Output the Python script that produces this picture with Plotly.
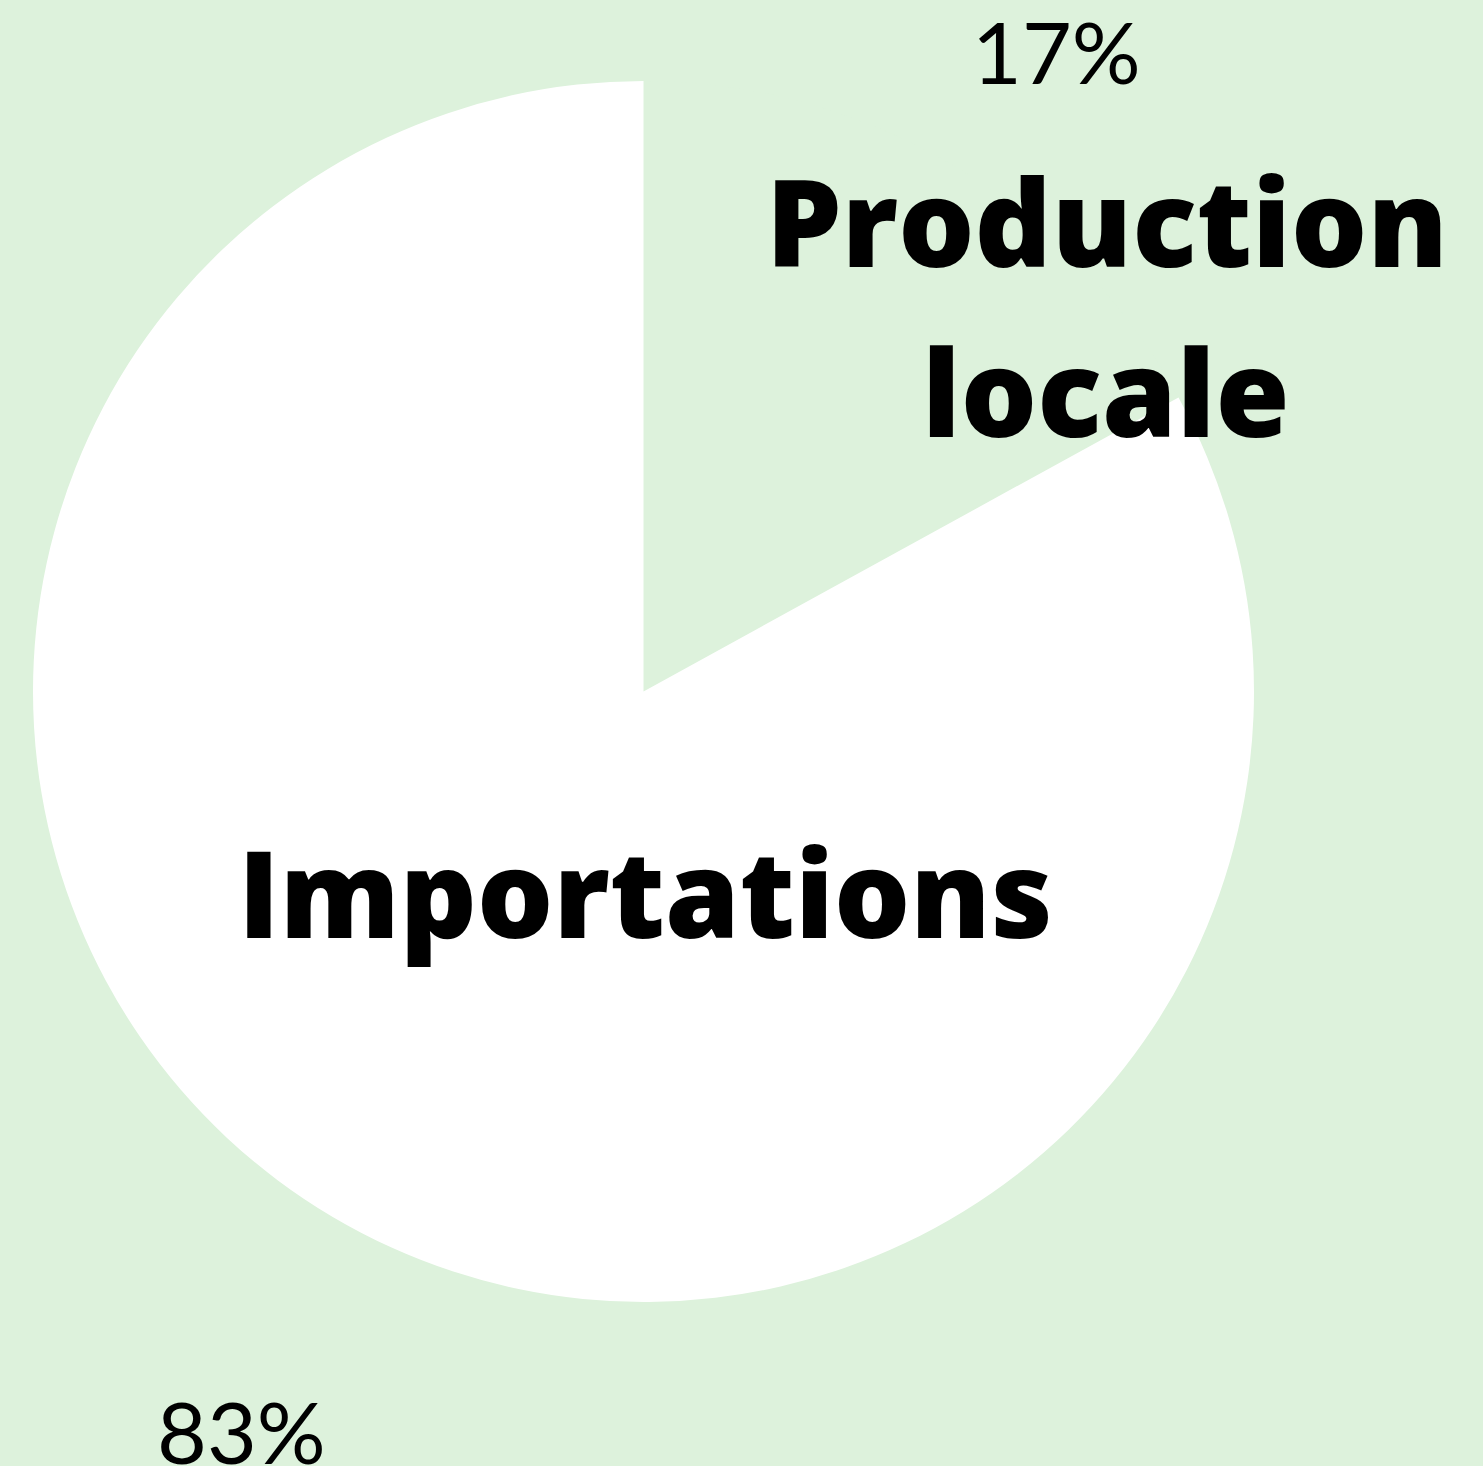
import plotly.graph_objects as go

labels = ["Production locale", "Importations"]
values = [17, 83]
pct_text = ["17%", "83%"]
label_lines = [["Production", "locale"], ["Importations"]]

BG = "#DDF2DC"
W, H = 1483, 1466

fig = go.Figure(go.Pie(
    labels=labels,
    values=values,
    sort=False,
    direction="clockwise",
    rotation=0,
    marker=dict(colors=[BG, "#FFFFFF"], line=dict(width=0)),
    textinfo="none",
    hoverinfo="label+percent",
    showlegend=False,
    domain=dict(x=[33 / W, 1254 / W], y=[1 - 1302 / H, 1 - 81 / H]),
))

def px(x):
    return x / W

def py(y):
    return 1 - y / H

bold = dict(family="Open Sans", size=120, color="black", weight=800)
light = dict(family="Lato", size=86, color="black", weight=400)

ann = [
    dict(text=pct_text[0], x=px(1056), y=py(50), font=light),
    dict(text=pct_text[1], x=px(241), y=py(1430), font=light),
    dict(text=label_lines[0][0], x=px(1107), y=py(221), font=bold),
    dict(text=label_lines[0][1], x=px(1106), y=py(390), font=bold),
    dict(text=label_lines[1][0], x=px(645), y=py(891), font=bold),
]
for a in ann:
    a.update(xref="paper", yref="paper", showarrow=False,
             xanchor="center", yanchor="middle")

fig.update_layout(
    width=W, height=H,
    margin=dict(l=0, r=0, t=0, b=0),
    paper_bgcolor=BG,
    plot_bgcolor=BG,
    annotations=ann,
)

fig.write_html("out.html")
